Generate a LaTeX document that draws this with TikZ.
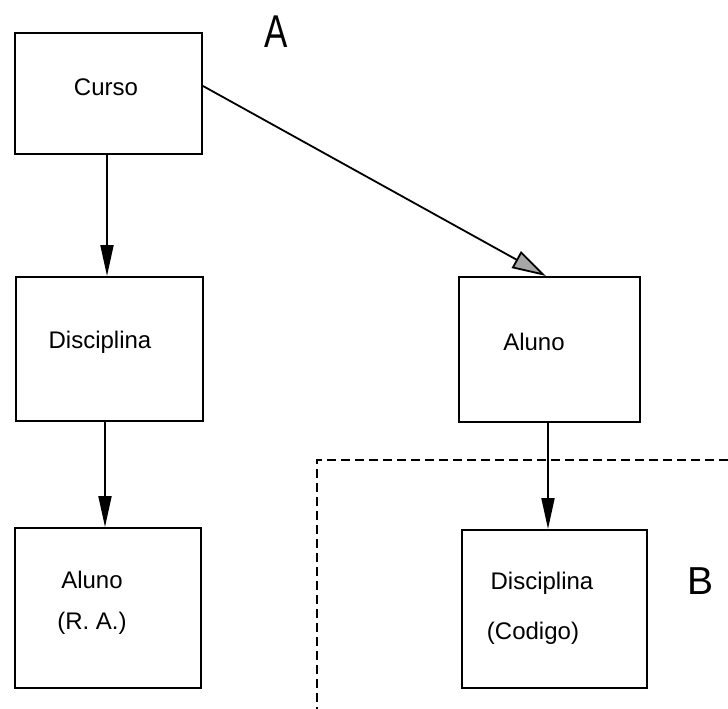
\documentclass[tikz,border=0pt]{standalone}
\usepackage{fontspec}
\setmainfont{Liberation Sans}
\usetikzlibrary{arrows.meta,patterns}
\begin{document}
\begin{tikzpicture}[x=1pt,y=-1pt,
  entity/.style={draw,line width=2pt,inner sep=0pt},
  lbl/.style={font=\fontsize{24}{28}\selectfont,inner sep=0pt},
  biga/.style={font=\fontsize{46}{50}\selectfont,xscale=0.76,inner sep=0pt},
  bigb/.style={font=\fontsize{39}{44}\selectfont,inner sep=0pt},
  link/.style={line width=2pt,-{Triangle[length=31pt,width=13pt]}},
  hatchlink/.style={line width=1.8pt,-{Triangle[length=34pt,width=19pt,fill=gray!70]}},
  region/.style={line width=1.8pt,dash pattern=on 9pt off 5pt}]
\useasboundingbox (0,0) rectangle (728,709);

% boxes
\node[entity,minimum width=187pt,minimum height=121pt] (curso) at (108.5,93.5) {};
\node[entity,minimum width=187pt,minimum height=144pt] (disc1) at (109.5,349) {};
\node[entity,minimum width=186pt,minimum height=160pt] (aluno1) at (108,608) {};
\node[entity,minimum width=181pt,minimum height=145pt] (aluno2) at (549.5,349.5) {};
\node[entity,minimum width=185pt,minimum height=158pt] (disc2) at (554.5,609) {};

% texts
\node[lbl] (tcurso) at (106,87) {Curso};
\node[lbl] (tdisc1) at (100,342) {Disciplina};
\node[lbl] (taluno1) at (92,580) {Aluno};
\node[lbl] (tra) at (92,623) {(R. A.)};
\node[lbl] (taluno2) at (534,342) {Aluno};
\node[lbl] (tdisc2) at (542,583) {Disciplina};
\node[lbl] (tcod) at (533,633) {(Codigo)};
\node[biga] (la) at (276,32) {A};
\node[bigb] (lb) at (700,581) {B};

% region B
\coordinate (rtop) at (728,460);
\coordinate (rcorner) at (317,460);
\coordinate (rbot) at (317,709);
\draw[region] (rtop) -- (rcorner) -- (rbot);

% connectors
\draw[link] (curso.south -| 107,0) -- (disc1.north -| 107,0);
\draw[link] (disc1.south -| 105,0) -- (aluno1.north -| 105,0);
\draw[link] (aluno2.south -| 548,0) -- (disc2.north -| 548,0);
\draw[hatchlink] (curso.east |- 0,86) -- (aluno2.north -| 546,0);
\end{tikzpicture}
\end{document}
